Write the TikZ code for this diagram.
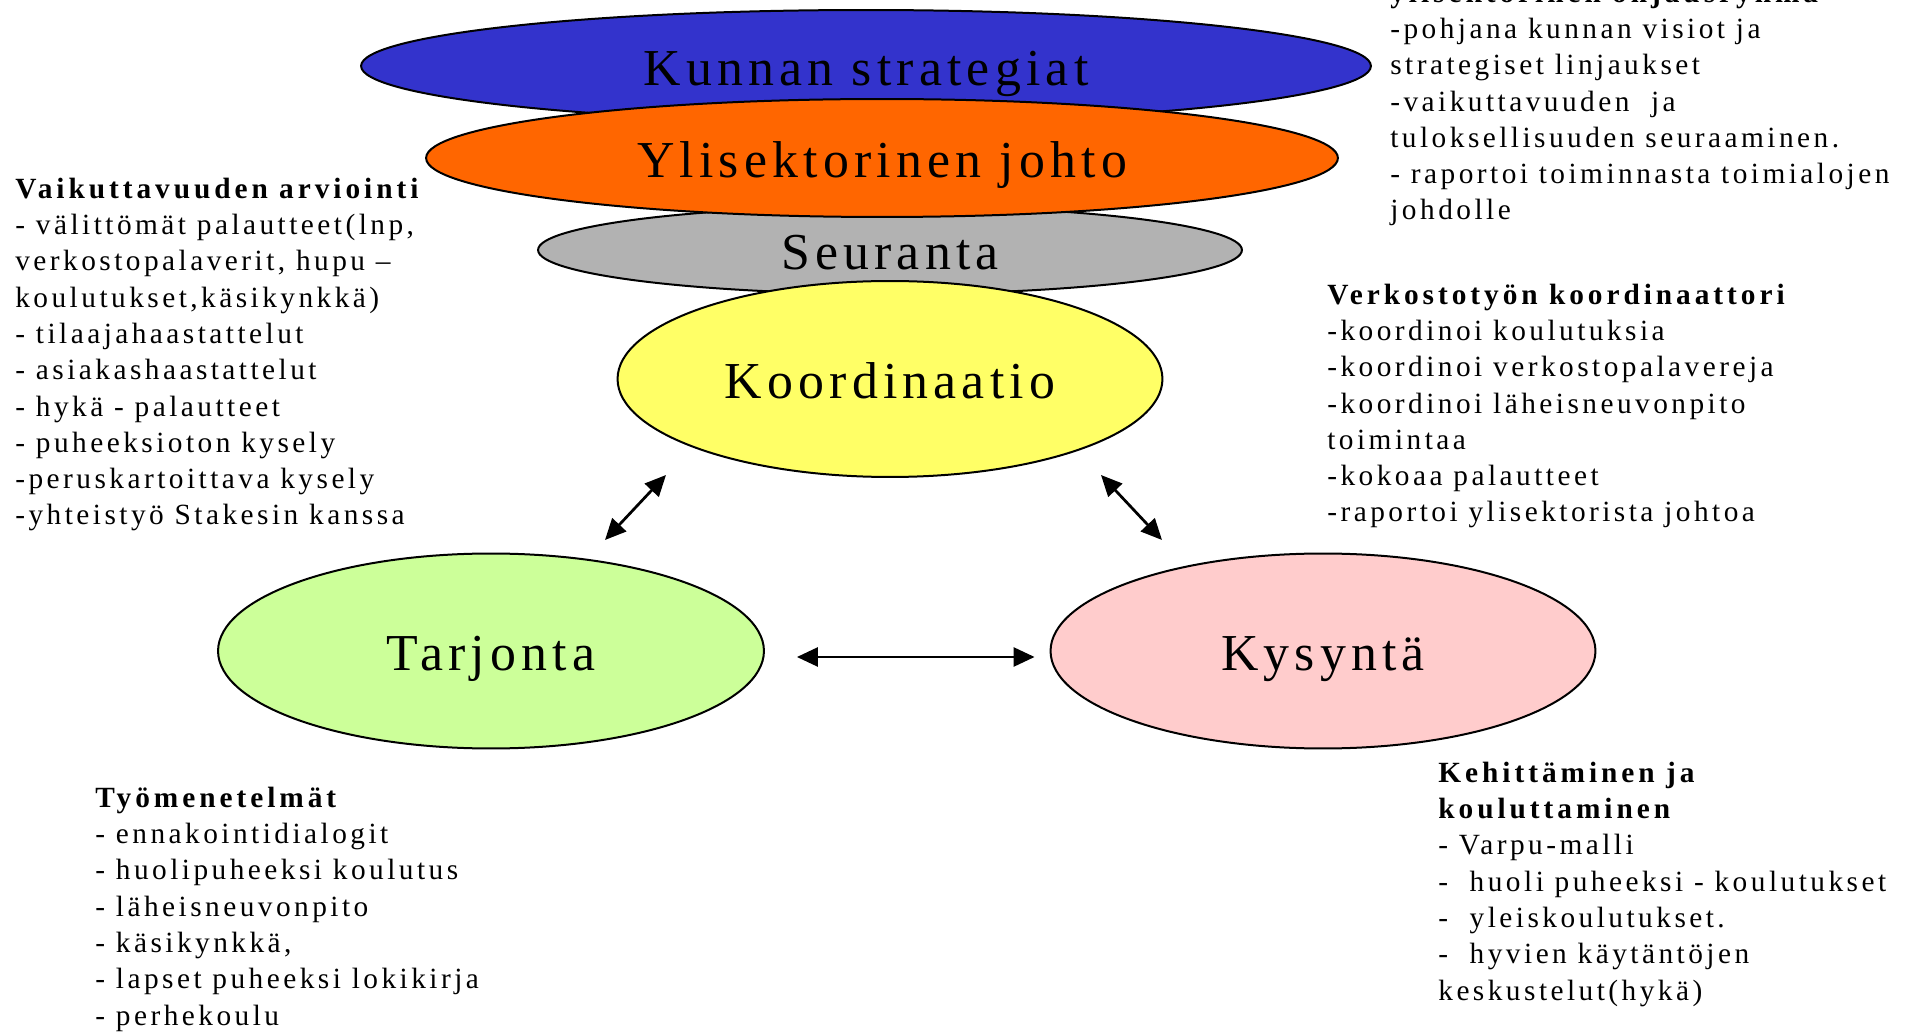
\documentclass[tikz,border=0pt]{standalone}
\usepackage{fontspec}
\setmainfont{Liberation Serif}
\newfontfamily\trackedfont[LetterSpace=10]{Liberation Serif}
\newfontfamily\notefont[LetterSpace=11.8]{Liberation Serif}
\newcommand{\hd}[1]{{\addfontfeatures{LetterSpace=13.5}\bfseries #1}}
\usetikzlibrary{shapes.geometric,arrows.meta}

\definecolor{stratblue}{RGB}{51,51,204}
\definecolor{johtoorange}{RGB}{255,102,0}
\definecolor{seurgray}{RGB}{178,178,178}
\definecolor{koordyellow}{RGB}{255,255,102}
\definecolor{tarjgreen}{RGB}{204,255,153}
\definecolor{kyspink}{RGB}{255,204,204}

\begin{document}
\begin{tikzpicture}[x=0.02cm,y=-0.02cm,
    blob/.style={ellipse,draw=black,line width=0.04cm,inner sep=0pt,
      font=\trackedfont\fontsize{29.5}{35}\selectfont,
      text height=0.8cm,text depth=0pt},
    note/.style={anchor=base west,align=left,inner sep=0pt,
      font=\notefont\fontsize{16.7}{20.66}\selectfont},
    bidir/.style={line width=0.055cm,
      {Triangle[length=0.42cm,width=0.38cm]}-{Triangle[length=0.42cm,width=0.38cm]}}]
  \useasboundingbox (0,0) rectangle (1907,1033);

  % the stack of ellipses, back to front
  \node[blob,fill=stratblue,minimum width=20.2cm,minimum height=2.24cm] (strat) at (866,66) {Kunnan strategiat};
  \node[blob,fill=seurgray,minimum width=14.08cm,minimum height=1.76cm] (seur) at (890,250) {Seuranta};
  \node[blob,fill=johtoorange,minimum width=18.24cm,minimum height=2.36cm] (johto) at (882,158) {Ylisektorinen johto};
  \node[blob,fill=koordyellow,minimum width=10.9cm,minimum height=3.92cm] (koord) at (890,379) {Koordinaatio};
  \node[blob,fill=tarjgreen,minimum width=10.92cm,minimum height=3.9cm] (tarj) at (491,651) {Tarjonta};
  \node[blob,fill=kyspink,minimum width=10.9cm,minimum height=3.9cm] (kys) at (1323,651) {Kysyntä};

  % arrows
  \coordinate (lA) at (605,540);
  \coordinate (lB) at (666,475);
  \coordinate (rA) at (1101,475);
  \coordinate (rB) at (1162,540);
  \draw[bidir] (lA) -- (lB);
  \draw[bidir] (rA) -- (rB);
  \draw[bidir,shorten <=0.64cm,shorten >=0.3cm] ([yshift=-0.12cm]tarj.east) -- ([yshift=-0.12cm]kys.west);

  % text blocks (placed at the baseline of their last line)
  \node[note] (ohjaus) at (1390,220) {\hd{ylisektorinen ohjausryhmä}\\-pohjana kunnan visiot ja\\strategiset linjaukset\\-vaikuttavuuden\ \ ja\\tuloksellisuuden seuraaminen.\\- raportoi toiminnasta toimialojen\\johdolle};
  \node[note] (arviointi) at (15,525) {\hd{Vaikuttavuuden arviointi}\\- välittömät palautteet(lnp,\\verkostopalaverit, hupu –\\koulutukset,käsikynkkä)\\- tilaajahaastattelut\\- asiakashaastattelut\\- hykä - palautteet\\- puheeksioton kysely\\-peruskartoittava kysely\\-yhteistyö Stakesin kanssa};
  \node[note] (koordinaattori) at (1327,522) {\hd{Verkostotyön koordinaattori}\\-koordinoi koulutuksia\\-koordinoi verkostopalavereja\\-koordinoi läheisneuvonpito\\toimintaa\\-kokoaa palautteet\\-raportoi ylisektorista johtoa};
  \node[note] (menetelmat) at (95,1025) {\hd{Työmenetelmät}\\- ennakointidialogit\\- huolipuheeksi koulutus\\- läheisneuvonpito\\- käsikynkkä,\\- lapset puheeksi lokikirja\\- perhekoulu};
  \node[note] (kehitys) at (1438,1000) {\hd{Kehittäminen ja}\\\hd{kouluttaminen}\\- Varpu-malli\\-\ \ huoli puheeksi - koulutukset\\-\ \ yleiskoulutukset.\\-\ \ hyvien käytäntöjen\\keskustelut(hykä)};
\end{tikzpicture}
\end{document}
